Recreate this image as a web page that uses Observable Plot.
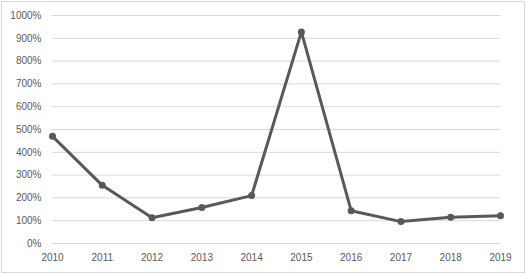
<!DOCTYPE html>
<html>
<head>
<meta charset="utf-8">
<script src="https://cdn.jsdelivr.net/npm/d3@7"></script>
<script src="https://cdn.jsdelivr.net/npm/@observablehq/plot@0.6"></script>
<style>
  html, body { margin: 0; padding: 0; background: #fff; }
  #wrap { position: relative; width: 527px; height: 273px; }
  #border { position: absolute; left: 1px; top: 1px; width: 522px; height: 270px; border: 1px solid #d9d9d9; pointer-events: none; }
</style>
</head>
<body>
<div id="wrap"><div id="border"></div></div>
<script>
const years = [2010, 2011, 2012, 2013, 2014, 2015, 2016, 2017, 2018, 2019];
const values = [470, 255, 113, 158, 210, 928, 144, 96, 115, 122];
const yTicks = [0, 100, 200, 300, 400, 500, 600, 700, 800, 900, 1000];

const data = years.map((y, i) => ({year: y, value: values[i]}));

const chart = Plot.plot({
  width: 527,
  height: 273,
  marginLeft: 52,
  marginRight: 27,
  marginTop: 15,
  marginBottom: 30,
  style: {fontFamily: "'Liberation Sans', Arial, sans-serif", fontSize: "10px", color: "#595959", background: "transparent"},
  x: {type: "linear", domain: [years[0], years[years.length - 1]], label: null},
  y: {domain: [0, 1000], label: null},
  marks: [
    Plot.gridY(yTicks, {stroke: "#d9d9d9", strokeOpacity: 1, strokeWidth: 1}),
    Plot.axisY(yTicks, {tickSize: 0, tickPadding: 11, tickFormat: d => d + "%", fill: "#595959", label: null}),
    Plot.axisX(years, {tickSize: 0, tickPadding: 10, tickFormat: d => String(d), fill: "#595959", label: null}),
    Plot.line(data, {x: "year", y: "value", stroke: "#595959", strokeWidth: 3, strokeLinejoin: "round"}),
    Plot.dot(data, {x: "year", y: "value", r: 3.5, fill: "#595959", stroke: "none"})
  ]
});
document.getElementById("wrap").appendChild(chart);
chart.style.position = "absolute";
chart.style.left = "0";
chart.style.top = "0";
</script>
</body>
</html>
